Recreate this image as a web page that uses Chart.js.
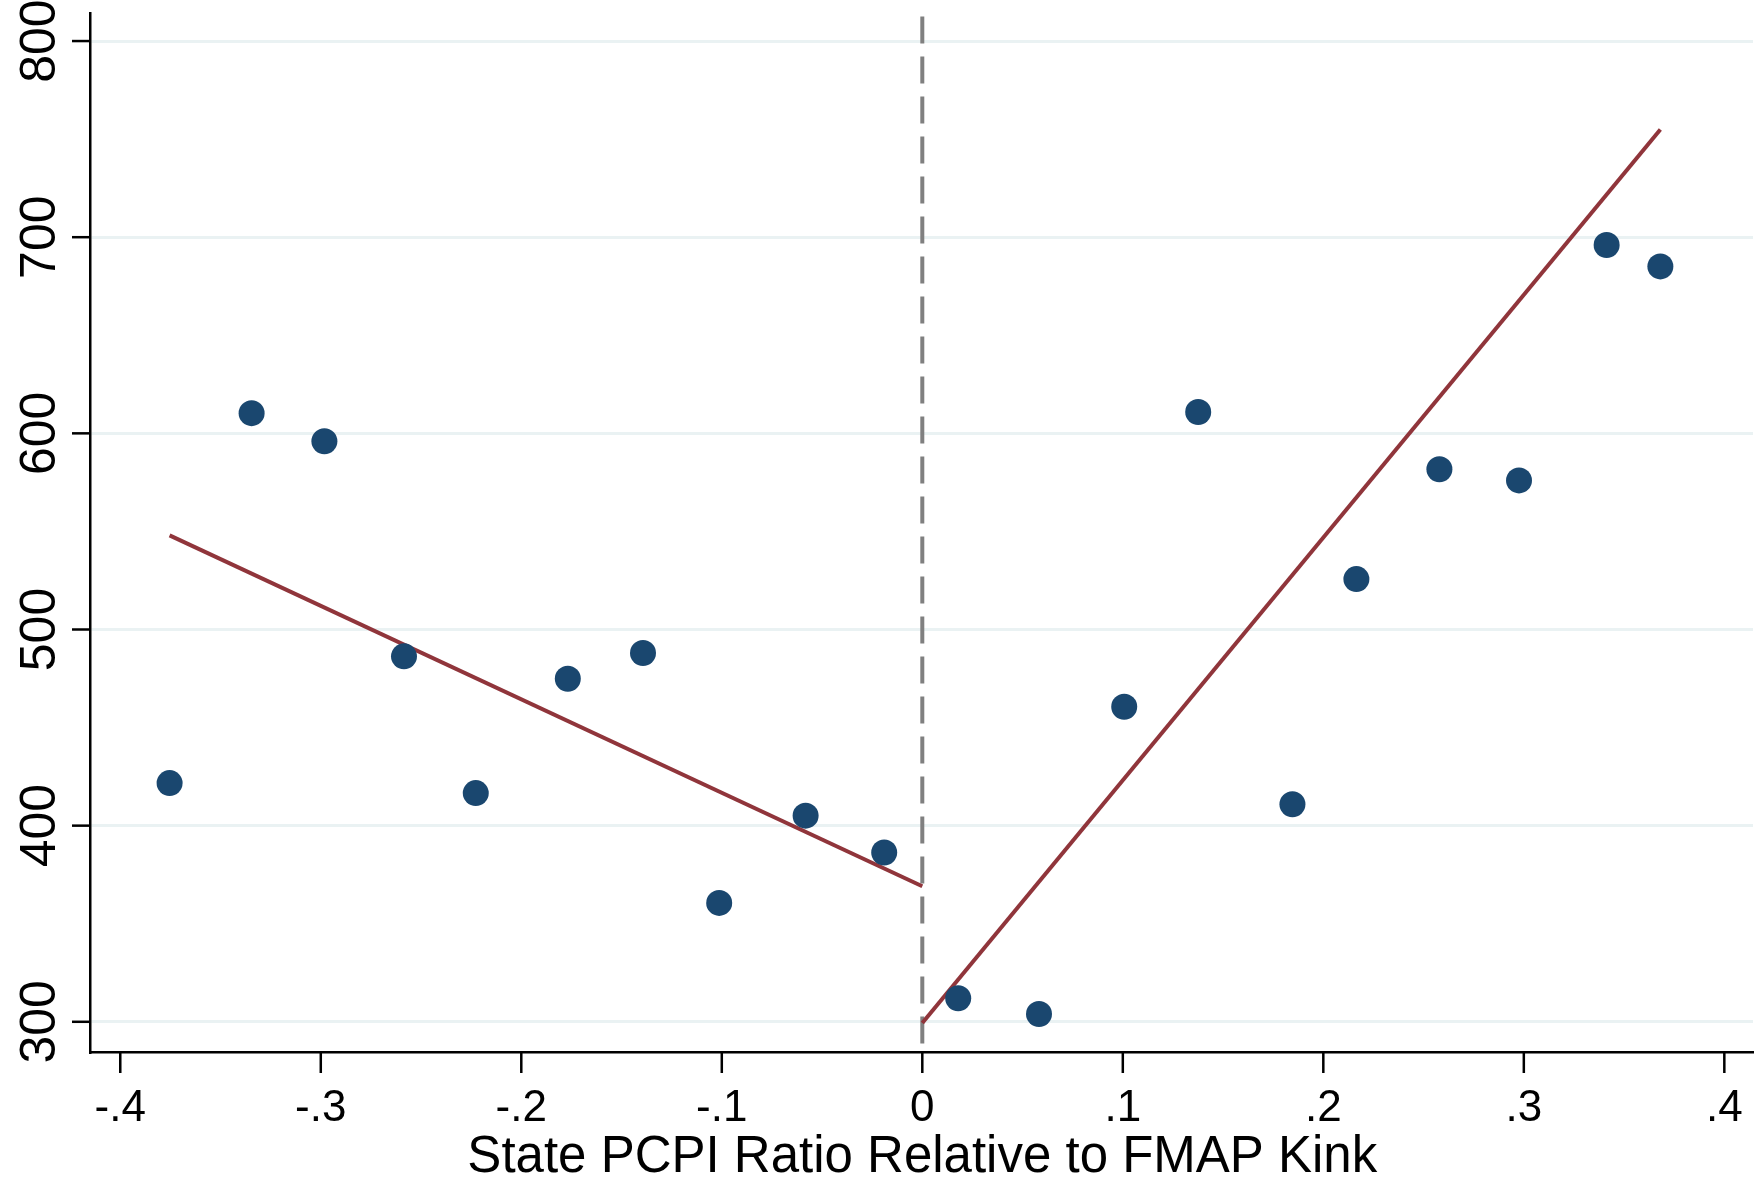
<!DOCTYPE html>
<html>
<head>
<meta charset="utf-8">
<script src="https://cdn.jsdelivr.net/npm/chart.js@4.4.1/dist/chart.umd.min.js"></script>
<style>
  html, body { margin: 0; padding: 0; background: #fff; }
  #wrap { width: 1758px; height: 1182px; }
</style>
</head>
<body>
<div id="wrap"><canvas id="chart" width="1758" height="1182"></canvas></div>
<script>
// binned means, left and right of the kink
const leftX = [-0.3754, -0.3345, -0.2982, -0.2585, -0.2227, -0.1768, -0.1393, -0.1013, -0.0582, -0.019];
const leftY = [421.7, 610.3, 596, 486.3, 416.6, 474.9, 488, 360.6, 405.1, 386.3];
const rightX = [0.0179, 0.0582, 0.1007, 0.1376, 0.1846, 0.2165, 0.2579, 0.2976, 0.3413, 0.3681];
const rightY = [312, 304, 460.6, 610.9, 410.9, 525.7, 581.7, 576, 696, 685.1];

// linear fits (end points)
const fitLeftX = [-0.3754, 0];
const fitLeftY = [548, 369.1];
const fitRightX = [0, 0.3681];
const fitRightY = [299.4, 754.9];

const xTicks = [-0.4, -0.3, -0.2, -0.1, 0, 0.1, 0.2, 0.3, 0.4];
const yTicks = [300, 400, 500, 600, 700, 800];
const xTitle = "State PCPI Ratio Relative to FMAP Kink";

const xMin = -0.4151, xMax = 0.4143;
const yMin = 284.6, yMax = 814.3;
const kinkTop = 812.5;

const toPts = (xs, ys) => xs.map((x, i) => ({ x, y: ys[i] }));

function fmtX(v) {
  if (Math.abs(v) < 1e-9) return "0";
  const s = v.toFixed(1);
  return s.replace("0.", ".");
}

// tick marks + labels drawn outside the plot
const axisDecor = {
  id: "axisDecor",
  afterDraw(chart) {
    const ctx = chart.ctx;
    const xs = chart.scales.x, ys = chart.scales.y;
    const a = chart.chartArea;
    ctx.save();
    ctx.strokeStyle = "#000";
    ctx.lineWidth = 2.5;
    ctx.fillStyle = "#000";

    // y ticks
    yTicks.forEach((v) => {
      const py = ys.getPixelForValue(v);
      ctx.beginPath();
      ctx.moveTo(a.left - 18, py);
      ctx.lineTo(a.left, py);
      ctx.stroke();
      ctx.save();
      ctx.translate(39, py);
      ctx.rotate(-Math.PI / 2);
      ctx.font = "50px 'Liberation Sans', Arial, sans-serif";
      ctx.textAlign = "center";
      ctx.textBaseline = "middle";
      ctx.fillText(String(v), 0, 2);
      ctx.restore();
    });

    // x ticks
    ctx.font = "44px 'Liberation Sans', Arial, sans-serif";
    ctx.textAlign = "center";
    ctx.textBaseline = "middle";
    xTicks.forEach((v) => {
      const px = xs.getPixelForValue(v);
      ctx.beginPath();
      ctx.moveTo(px, a.bottom);
      ctx.lineTo(px, a.bottom + 21);
      ctx.stroke();
      ctx.fillText(fmtX(v), px, 1109);
    });

    // x title
    ctx.font = "51px 'Liberation Sans', Arial, sans-serif";
    ctx.textBaseline = "alphabetic";
    ctx.fillText(xTitle, xs.getPixelForValue(0), 1172);
    ctx.restore();
  },
};

new Chart(document.getElementById("chart"), {
  type: "scatter",
  data: {
    datasets: [
      {
        label: "bins",
        data: toPts(leftX.concat(rightX), leftY.concat(rightY)),
        backgroundColor: "#1a476f",
        borderColor: "#1a476f",
        pointRadius: 13,
        borderWidth: 0,
        order: 0,
      },
      {
        type: "line",
        label: "fit left",
        data: toPts(fitLeftX, fitLeftY),
        borderColor: "#90353b",
        borderWidth: 4,
        pointRadius: 0,
        fill: false,
        order: 1,
      },
      {
        type: "line",
        label: "fit right",
        data: toPts(fitRightX, fitRightY),
        borderColor: "#90353b",
        borderWidth: 4,
        pointRadius: 0,
        fill: false,
        order: 2,
      },
      {
        type: "line",
        label: "kink",
        data: [{ x: 0, y: kinkTop }, { x: 0, y: yMin }],
        borderColor: "#808080",
        borderWidth: 4,
        borderDash: [27, 13],
        pointRadius: 0,
        fill: false,
        order: 3,
      },
    ],
  },
  options: {
    responsive: false,
    animation: false,
    layout: { autoPadding: false, padding: { top: 13, right: 5, left: 0, bottom: 0 } },
    plugins: {
      legend: { display: false },
      tooltip: { enabled: false },
    },
    scales: {
      x: {
        type: "linear",
        min: xMin,
        max: xMax,
        afterFit: (s) => {
          s.height = 130;
          s.paddingLeft = 0;
          s.paddingRight = 0;
        },
        afterBuildTicks: (s) => { s.ticks = xTicks.map((v) => ({ value: v })); },
        ticks: { display: false, padding: 0 },
        grid: { display: false, drawTicks: false },
        border: { display: true, color: "#000", width: 2.5 },
      },
      y: {
        type: "linear",
        min: yMin,
        max: yMax,
        afterFit: (s) => {
          s.width = 90;
          s.paddingTop = 0;
          s.paddingBottom = 0;
        },
        afterBuildTicks: (s) => { s.ticks = yTicks.map((v) => ({ value: v })); },
        ticks: { display: false, padding: 0 },
        grid: { color: "#eaf2f3", lineWidth: 3, drawTicks: false },
        border: { display: true, color: "#000", width: 2.5 },
      },
    },
  },
  plugins: [axisDecor],
});
</script>
</body>
</html>
